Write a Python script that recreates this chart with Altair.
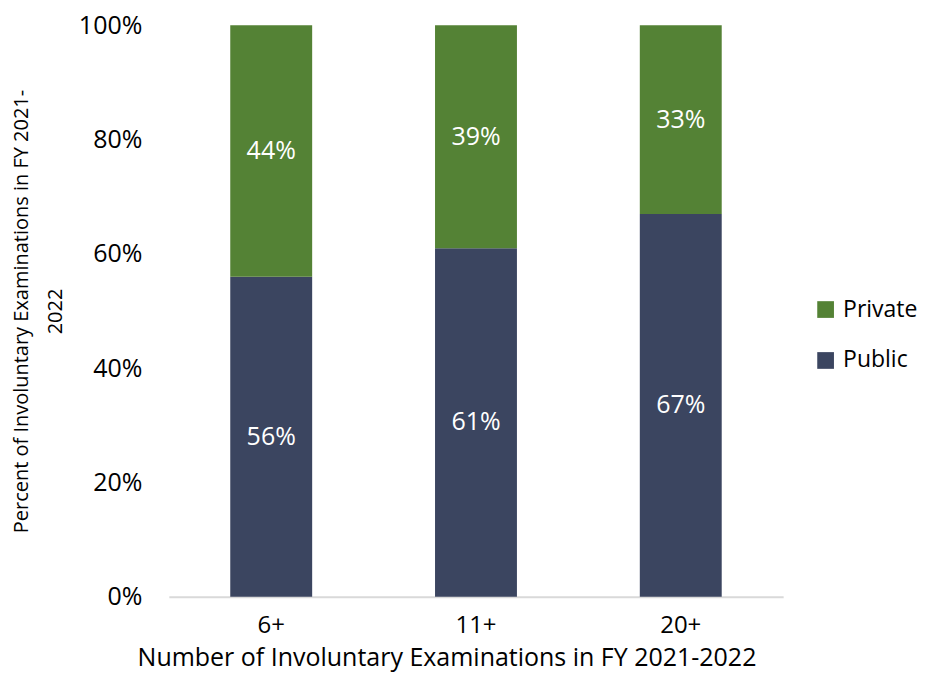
import altair as alt
import pandas as pd

categories = ["6+", "11+", "20+"]
public_vals = [56, 61, 67]
private_vals = [44, 39, 33]
series = ["Public", "Private"]
colors = ["#3B4560", "#548235"]

rows = []
for c, pu, pr in zip(categories, public_vals, private_vals):
    rows.append({"cat": c, "type": "Public", "val": pu / 100, "ord": 0})
    rows.append({"cat": c, "type": "Private", "val": pr / 100, "ord": 1})
df = pd.DataFrame(rows)

FONT = "Open Sans"

x = alt.X("cat:N", sort=categories,
          scale=alt.Scale(paddingInner=0.6, paddingOuter=0.3),
          axis=alt.Axis(title="Number of Involuntary Examinations in FY 2021-2022",
                        labelAngle=0, labelFontSize=24, titleFontSize=25,
                        labelPadding=17, titlePadding=8, ticks=False,
                        titleX=278, titleAlign="center", titleAnchor="start",
                        domainColor="#d9d9d9", domainWidth=2,
                        labelColor="#000", titleColor="#000",
                        labelFont=FONT, titleFont=FONT, titleFontWeight="normal"))

base = alt.Chart(df).transform_stack(
    stack="val", groupby=["cat"], as_=["y0", "y1"], sort=[alt.SortField("ord")]
).transform_calculate(mid="(datum.y0 + datum.y1) / 2",
                      lbl="format(datum.val, '.0%')")

bars = base.mark_bar().encode(
    x=x,
    y=alt.Y("y0:Q", scale=alt.Scale(domain=[0, 1]),
            axis=alt.Axis(title=["Percent of Involuntary Examinations in FY 2021-", "2022"],
                          format=".0%", values=[0, 0.2, 0.4, 0.6, 0.8, 1.0],
                          grid=False, domain=False, ticks=False,
                          labelFontSize=25, titleFontSize=20, labelPadding=27,
                          titlePadding=13, labelColor="#000", titleColor="#000",
                          labelFont=FONT, titleFont=FONT, titleFontWeight="normal",
                          titleLineHeight=34)),
    y2="y1:Q",
    color=alt.Color("type:N", scale=alt.Scale(domain=series, range=colors),
                    sort=["Private", "Public"],
                    legend=alt.Legend(title=None, orient="none", legendX=646, legendY=273,
                                      labelFontSize=23, labelFont=FONT, labelColor="#000",
                                      symbolType="square", symbolSize=280,
                                      symbolStrokeWidth=0, symbolOpacity=1, padding=0,
                                      rowPadding=27, labelOffset=6, values=["Private", "Public"])),
)

texts = base.mark_text(color="white", fontSize=25, font=FONT).encode(
    x=alt.X("cat:N", sort=categories),
    y="mid:Q",
    text="lbl:N",
)

chart = (bars + texts).properties(
    width=615, height=572,
    padding={"left": 3, "top": 5, "right": 0, "bottom": 6},
).configure_view(stroke=None)

chart.save("out.html", embed_options={"renderer": "svg", "actions": False})
